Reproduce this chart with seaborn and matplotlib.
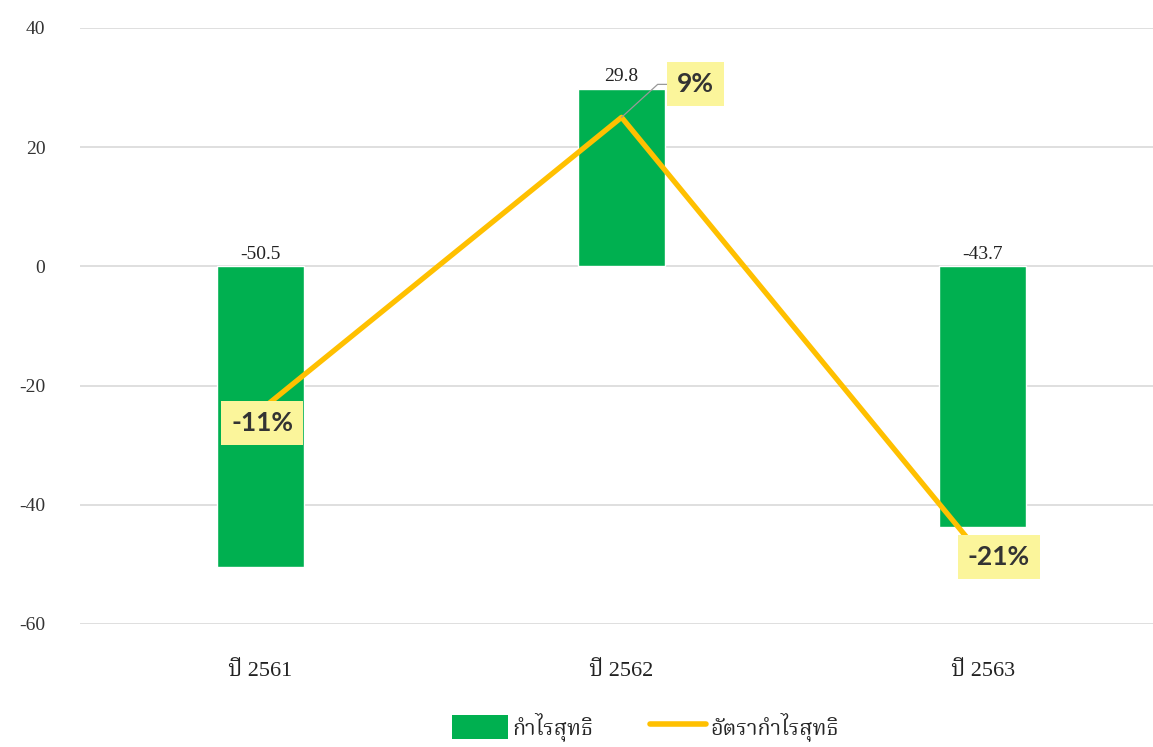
import matplotlib
matplotlib.use("Agg")
import matplotlib.pyplot as plt
import seaborn as sns
from matplotlib import font_manager
from matplotlib.ft2font import FT2Font
from matplotlib.patches import Patch
from matplotlib.lines import Line2D

# ─── data ────────────────────────────────────────────────────────────────────
years = ["ปี 2561", "ปี 2562", "ปี 2563"]
net_profit = [-50.5, 29.8, -43.7]
margin_pct = [-11, 9, -21]
bar_name = "กำไรสุทธิ"
line_name = "อัตรากำไรสุทธิ"

GREEN = "#00B050"
GOLD = "#FFC000"
BOX = "#FBF59B"

# find families that actually have Thai glyphs
thai = set()
for f in font_manager.fontManager.ttflist:
    try:
        if ord("ก") in FT2Font(f.fname).get_charmap():
            thai.add(f.name)
    except Exception:
        pass
installed = {f.name for f in font_manager.fontManager.ttflist}
prefer = [n for n in ["Noto Serif Thai", "Noto Sans Thai Looped", "Noto Sans Thai"] if n in thai]
thai_list = prefer + sorted(thai - set(prefer))

sns.set_theme(style="white")
plt.rcParams["font.family"] = ["Liberation Serif"] + thai_list + ["DejaVu Sans"]
plt.rcParams["axes.unicode_minus"] = False

fig = plt.figure(figsize=(11.53, 7.47), dpi=100)
ax = fig.add_axes([80 / 1153, 1 - 624 / 747, 1 - 80 / 1153, 596 / 747])

sns.barplot(x=years, y=net_profit, color=GREEN, width=0.24, saturation=1, ax=ax)
ax.set_ylim(-60, 40)
ax.set_xlim(-0.5, 2.472)
ax.set_yticks(range(-60, 41, 20))
ax.yaxis.grid(True, color="#d9d9d9", linewidth=1.2)
ax.set_axisbelow(True)
for s in ax.spines.values():
    s.set_visible(False)
ax.tick_params(axis="y", labelsize=14, pad=25, length=0, labelcolor="#333333")
ax.tick_params(axis="x", labelsize=16, pad=27, length=0, labelcolor="#222222")
ax.set_ylabel("")

for i, v in enumerate(net_profit):
    ax.text(i, max(v, 0) + 0.6, f"{v:.1f}", ha="center", va="bottom",
            fontsize=14, color="#222222")

ax2 = ax.twinx()
ax2.set_ylim(-25.6, 15.1)
sns.lineplot(x=[0, 1, 2], y=margin_pct, color=GOLD, linewidth=3.8, ax=ax2)
ax2.set_axis_off()
ax2.set_xlim(ax.get_xlim())

lab_family = ["Lato", "DejaVu Sans"] if "Lato" in installed else ["DejaVu Sans"]
box = dict(boxstyle="square,pad=0.38", fc=BOX, ec="none")
lab_font = dict(fontsize=19, fontweight="bold", color="#333333", family=lab_family)
offsets = [(0.005, -0.9), (0.205, 2.3), (0.045, 0.0)]
# leader line for the 9% label
ax2.plot([1, 1.1, 1.14], [margin_pct[1], margin_pct[1] + 2.25, margin_pct[1] + 2.25],
         color="#999999", linewidth=0.9)
for i, (v, (dx, dy)) in enumerate(zip(margin_pct, offsets)):
    ax2.text(i + dx, v + dy, f"{v}%", ha="center", va="center", bbox=box,
             zorder=5, **lab_font)

handles = [Patch(fc=GREEN, ec="none"), Line2D([], [], color=GOLD, linewidth=4)]
fig.legend(handles, [bar_name, line_name], loc="lower center", ncol=2,
           bbox_to_anchor=(0.56, -0.018), frameon=False, fontsize=15.5,
           handlelength=2.6, handleheight=1.4, handletextpad=0.2, columnspacing=2.6)

fig.savefig("out.png", dpi=100)
